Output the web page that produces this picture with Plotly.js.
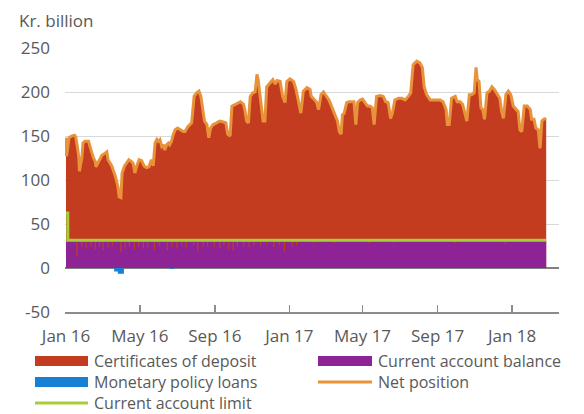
<!DOCTYPE html>
<html>
<head>
<meta charset="utf-8">
<script src="https://cdn.plot.ly/plotly-3.0.1.min.js"></script>
<style>html,body{margin:0;padding:0;background:#fff;}#chart{width:584px;height:414px;}</style>
</head>
<body>
<div id="chart"></div>
<script>
// Net position (top of the stacked CDs + current account balance), Kr. billion
const netDates = ['2016-01-01','2016-01-02','2016-01-06','2016-01-10','2016-01-15','2016-01-17','2016-01-20','2016-01-22','2016-01-23','2016-01-27','2016-01-29','2016-02-01','2016-02-07','2016-02-09','2016-02-12','2016-02-15','2016-02-18','2016-02-19','2016-02-22','2016-02-26','2016-02-29','2016-03-04','2016-03-08','2016-03-10','2016-03-13','2016-03-16','2016-03-19','2016-03-22','2016-03-26','2016-03-28','2016-03-31','2016-04-02','2016-04-06','2016-04-10','2016-04-13','2016-04-17','2016-04-20','2016-04-23','2016-04-26','2016-04-30','2016-05-04','2016-05-08','2016-05-12','2016-05-16','2016-05-20','2016-05-23','2016-05-26','2016-05-29','2016-05-31','2016-06-03','2016-06-06','2016-06-09','2016-06-11','2016-06-14','2016-06-17','2016-06-19','2016-06-22','2016-06-25','2016-06-28','2016-07-02','2016-07-06','2016-07-11','2016-07-14','2016-07-19','2016-07-25','2016-07-29','2016-08-02','2016-08-06','2016-08-09','2016-08-12','2016-08-15','2016-08-19','2016-08-22','2016-08-25','2016-08-29','2016-09-04','2016-09-09','2016-09-15','2016-09-19','2016-09-22','2016-09-26','2016-09-29','2016-10-04','2016-10-09','2016-10-13','2016-10-18','2016-10-20','2016-10-23','2016-10-26','2016-10-29','2016-11-02','2016-11-06','2016-11-09','2016-11-11','2016-11-14','2016-11-17','2016-11-19','2016-11-22','2016-11-25','2016-11-30','2016-12-05','2016-12-09','2016-12-12','2016-12-17','2016-12-21','2016-12-25','2016-12-28','2017-01-02','2017-01-08','2017-01-12','2017-01-16','2017-01-20','2017-01-24','2017-01-30','2017-02-04','2017-02-06','2017-02-09','2017-02-15','2017-02-18','2017-02-22','2017-02-26','2017-03-03','2017-03-07','2017-03-10','2017-03-14','2017-03-18','2017-03-21','2017-03-24','2017-03-27','2017-03-29','2017-04-01','2017-04-05','2017-04-09','2017-04-13','2017-04-17','2017-04-20','2017-04-23','2017-04-27','2017-05-01','2017-05-05','2017-05-09','2017-05-13','2017-05-17','2017-05-20','2017-05-24','2017-05-30','2017-06-04','2017-06-08','2017-06-12','2017-06-16','2017-06-19','2017-06-23','2017-06-29','2017-07-04','2017-07-10','2017-07-15','2017-07-19','2017-07-23','2017-07-29','2017-08-03','2017-08-07','2017-08-10','2017-08-14','2017-08-20','2017-08-25','2017-08-31','2017-09-05','2017-09-10','2017-09-15','2017-09-17','2017-09-20','2017-09-24','2017-09-30','2017-10-03','2017-10-08','2017-10-12','2017-10-16','2017-10-19','2017-10-23','2017-10-27','2017-10-31','2017-11-03','2017-11-05','2017-11-08','2017-11-11','2017-11-14','2017-11-17','2017-11-21','2017-11-25','2017-11-29','2017-12-03','2017-12-07','2017-12-12','2017-12-15','2017-12-18','2017-12-22','2017-12-26','2017-12-30','2018-01-03','2018-01-08','2018-01-11','2018-01-14','2018-01-17','2018-01-21','2018-01-26','2018-01-31','2018-02-02','2018-02-06','2018-02-09','2018-02-13','2018-02-16','2018-02-19','2018-02-22','2018-02-26'];
const netValues = [148,127,148,150,151,149,136,126,110,125,142,144,144,138,132,125,121,115,119,125,128,130,132,123,119,116,110,104,93,81,80,108,116,121,123,121,119,108,116,123,122,116,114,115,123,116,142,146,144,146,138,140,134,140,142,140,144,152,157,159,157,155,155,161,165,195,199,201,195,180,167,163,148,159,163,165,167,166,165,152,150,184,186,188,189,186,180,167,165,195,199,200,220,214,195,180,167,167,206,210,214,209,213,212,195,188,212,215,212,203,188,176,201,205,203,195,193,188,180,197,200,195,191,186,178,172,167,155,152,174,176,188,189,189,189,163,188,191,192,188,184,184,182,163,195,196,195,189,188,170,176,191,193,193,191,195,199,231,235,233,228,206,197,191,191,191,191,189,180,163,163,193,195,189,189,186,176,167,197,197,199,228,214,212,182,180,169,199,201,206,203,199,193,178,170,197,201,197,184,180,178,157,155,184,184,180,169,169,159,157,136,167,169,170];

// Current account balance: usual level and the days it dipped below it
const caLevel = 30;
const caDipDates = ['2016-01-18','2016-01-26','2016-02-02','2016-02-10','2016-02-17','2016-02-24','2016-03-01','2016-03-09','2016-03-16','2016-03-30','2016-04-06','2016-04-13','2016-04-21','2016-04-28','2016-05-06','2016-05-13','2016-05-24','2016-06-01','2016-06-14','2016-06-22','2016-06-30','2016-07-08','2016-07-15','2016-07-27','2016-08-03','2016-08-12','2016-08-19','2016-08-30','2016-09-08','2016-09-15','2016-09-23','2016-09-30','2016-10-07','2016-10-17','2016-10-26','2016-11-03','2016-11-14','2016-11-24','2016-12-06','2016-12-15','2016-12-23','2017-01-05','2017-01-12','2017-02-10','2017-03-15','2017-05-10','2017-06-20','2017-09-28','2017-12-20'];
const caDipValues = [13,24,22,25,21,24,20,23,25,18,22,24,21,25,22,24,21,25,20,24,22,25,23,26,19,24,25,24,22,26,21,20,24,25,24,26,25,27,24,26,19,25,26,28,28,28,28,28,27];
const caEndDate = '2018-02-26';

// Monetary policy loans (negative = loans to banks)
const loanDates = ['2016-03-20','2016-03-26','2016-04-05','2016-06-19','2016-06-26'];
const loanValues = [-4,-6.5,0,-1.2,0];

// Current account limit
const limitDates = ['2016-01-01','2016-01-04','2018-02-26'];
const limitValues = [62.5,31.5,31.5];

// Axis ticks
const xTickDates = ['2016-01-01','2016-05-01','2016-09-01','2017-01-01','2017-05-01','2017-09-01','2018-01-01'];
const xTickLabels = ['Jan 16','May 16','Sep 16','Jan 17','May 17','Sep 17','Jan 18'];
const yTickValues = [-50,0,50,100,150,200,250];
const yTickLabels = ['-50','0','50','100','150','200','250'];

const seriesNames = ['Certificates of deposit','Current account balance','Monetary policy loans','Net position','Current account limit'];
const colors = {cd:'#c33c1f', ca:'#8e2396', loans:'#1580d4', net:'#e8933a', limit:'#a6cd3a'};

// Build stepwise current account series (each dip lasts two days)
function addDays(d,n){ return new Date(new Date(d).getTime()+n*86400000).toISOString().slice(0,10); }
const caX = [netDates[0]], caY = [caLevel];
caDipDates.forEach((d,i)=>{ caX.push(d); caY.push(caDipValues[i]); caX.push(addDays(d,2)); caY.push(caLevel); });
caX.push(caEndDate); caY.push(caLevel);

const traces = [
  {type:'scatter', mode:'lines', name:seriesNames[0], x:netDates, y:netValues, fill:'tozeroy', fillcolor:colors.cd, line:{width:0, color:colors.cd}, showlegend:false, hoverinfo:'skip'},
  {type:'scatter', mode:'lines', name:seriesNames[1], x:caX, y:caY, fill:'tozeroy', fillcolor:colors.ca, line:{width:0, shape:'hv', color:colors.ca}, showlegend:false, hoverinfo:'skip'},
  {type:'scatter', mode:'lines', name:seriesNames[2], x:loanDates, y:loanValues, fill:'tozeroy', fillcolor:colors.loans, line:{width:0, shape:'hv', color:colors.loans}, showlegend:false, hoverinfo:'skip'},
  {type:'scatter', mode:'lines', name:seriesNames[3], x:netDates, y:netValues, line:{width:3, color:colors.net}, showlegend:false, hoverinfo:'skip'},
  {type:'scatter', mode:'lines', name:seriesNames[4], x:limitDates, y:limitValues, line:{width:3, shape:'hv', color:colors.limit}, showlegend:false, hoverinfo:'skip'}
];

// manual legend (pixel -> paper)
const L = 65, W = 494, B = 312, H = 264;
const px = v => (v - L)/W, py = v => (B - v)/H;
const shapes = [
  {type:'rect', xref:'paper', yref:'paper', x0:px(35), x1:px(88), y0:py(366), y1:py(356), fillcolor:colors.cd, line:{width:0}},
  {type:'rect', xref:'paper', yref:'paper', x0:px(318), x1:px(372), y0:py(366), y1:py(356), fillcolor:colors.ca, line:{width:0}},
  {type:'rect', xref:'paper', yref:'paper', x0:px(35), x1:px(88), y0:py(387), y1:py(377), fillcolor:colors.loans, line:{width:0}},
  {type:'line', xref:'paper', yref:'paper', x0:px(318), x1:px(372), y0:py(382), y1:py(382), line:{color:colors.net, width:3}},
  {type:'line', xref:'paper', yref:'paper', x0:px(35), x1:px(88), y0:py(403), y1:py(403), line:{color:colors.limit, width:3}}
];
const legendText = [[93,361,0],[377,361,1],[93,382,2],[377,382,3],[93,403,4]];
const annotations = legendText.map(([x,y,i])=>({xref:'paper', yref:'paper', x:px(x), y:py(y), xanchor:'left', yanchor:'middle', text:seriesNames[i], showarrow:false, borderpad:0, font:{size:16, color:'#595959'}}));
annotations.push({xref:'paper', yref:'paper', x:px(17), y:py(20), xanchor:'left', yanchor:'middle', text:'Kr. billion', showarrow:false, font:{size:17, color:'#595959'}});

const layout = {
  width:584, height:414,
  margin:{l:65, r:25, t:48, b:102},
  paper_bgcolor:'#ffffff', plot_bgcolor:'#ffffff',
  font:{family:'"Open Sans", sans-serif', size:17, color:'#595959'},
  showlegend:false,
  xaxis:{type:'date', range:['2015-12-30 10:00','2018-03-19'], tickvals:xTickDates, ticktext:xTickLabels,
         ticks:'inside', ticklen:7, tickwidth:1.5, tickcolor:'#8c8c8c', showline:true, linecolor:'#8c8c8c', linewidth:1.5,
         showgrid:false, zeroline:false, ticklabelstandoff:8, fixedrange:true},
  yaxis:{range:[-50,250], tickvals:yTickValues, ticktext:yTickLabels, showgrid:true, gridcolor:'#d9d9d9', gridwidth:1,
         zeroline:true, zerolinecolor:'#808080', zerolinewidth:2, ticks:'', ticklabelstandoff:14, showline:false, fixedrange:true},
  shapes:shapes, annotations:annotations
};

Plotly.newPlot('chart', traces, layout, {staticPlot:true, displayModeBar:false});
</script>
</body>
</html>
